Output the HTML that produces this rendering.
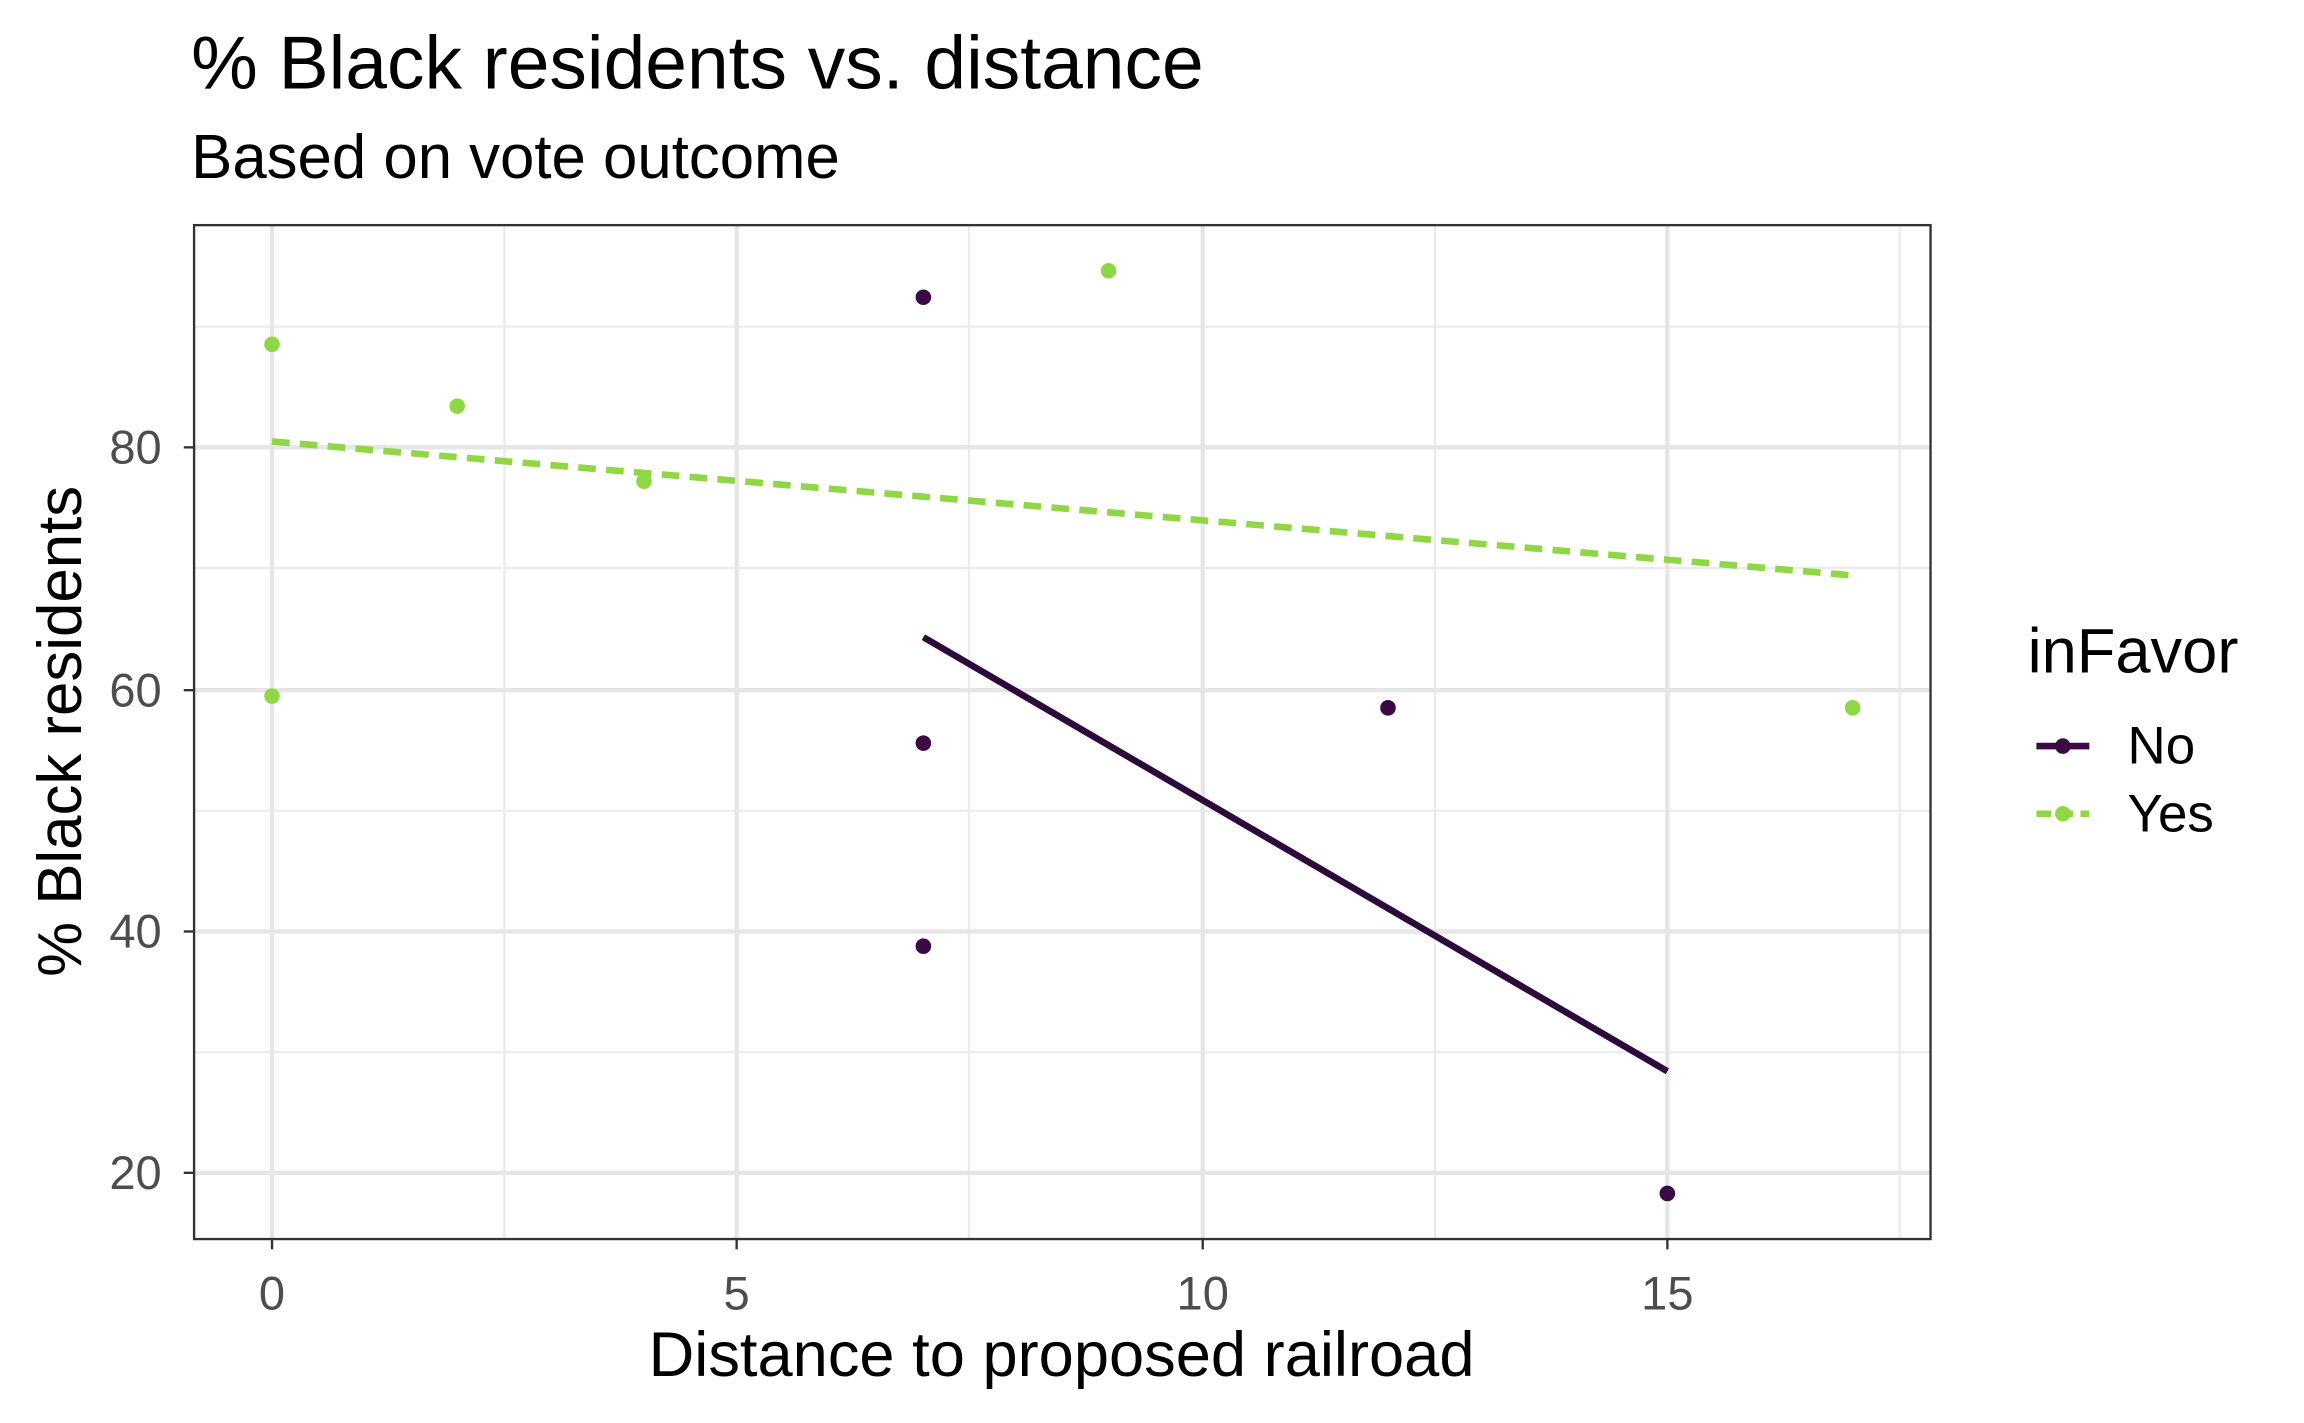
<!DOCTYPE html>
<html><head><style>html,body{margin:0;padding:0;background:#fff}svg{display:block}</style></head>
<body>
<svg width="2304" height="1423" viewBox="0 0 1567 967" preserveAspectRatio="none" xmlns="http://www.w3.org/2000/svg" font-family="Liberation Sans, sans-serif">
<rect width="1567" height="967" fill="#fff"/>
<text x="130" y="60" font-size="51" fill="#000">% Black residents vs. distance</text>
<text x="130" y="121" font-size="42" fill="#000">Based on vote outcome</text>
<g stroke="#ebebeb" stroke-width="1.5">
<line x1="343" y1="153" x2="343" y2="842"/><line x1="659" y1="153" x2="659" y2="842"/>
<line x1="976" y1="153" x2="976" y2="842"/><line x1="1292" y1="153" x2="1292" y2="842"/>
<line x1="132" y1="715" x2="1313" y2="715"/><line x1="132" y1="551" x2="1313" y2="551"/>
<line x1="132" y1="386" x2="1313" y2="386"/><line x1="132" y1="222" x2="1313" y2="222"/>
</g>
<g stroke="#e6e6e6" stroke-width="3">
<line x1="185" y1="153" x2="185" y2="842"/><line x1="501" y1="153" x2="501" y2="842"/>
<line x1="818" y1="153" x2="818" y2="842"/><line x1="1134" y1="153" x2="1134" y2="842"/>
<line x1="132" y1="797" x2="1313" y2="797"/><line x1="132" y1="633" x2="1313" y2="633"/>
<line x1="132" y1="469" x2="1313" y2="469"/><line x1="132" y1="304" x2="1313" y2="304"/>
</g>
<line x1="185" y1="300" x2="1260" y2="391" stroke="#8fd744" stroke-width="4.5" stroke-dasharray="12,7"/>
<line x1="628" y1="433" x2="1134" y2="728" stroke="#2d0a3c" stroke-width="4.5"/>
<g fill="#8fd744">
<circle cx="185" cy="234" r="5.3"/><circle cx="311" cy="276" r="5.3"/><circle cx="438" cy="327" r="5.3"/>
<circle cx="754" cy="184" r="5.3"/><circle cx="185" cy="473" r="5.3"/><circle cx="1260" cy="481" r="5.3"/>
</g>
<g fill="#3b0a45">
<circle cx="628" cy="202" r="5.3"/><circle cx="628" cy="505" r="5.3"/><circle cx="628" cy="643" r="5.3"/>
<circle cx="944" cy="481" r="5.3"/><circle cx="1134" cy="811" r="5.3"/>
</g>
<rect x="132" y="153" width="1181" height="689" fill="none" stroke="#333" stroke-width="1.6"/>
<g stroke="#333" stroke-width="1.6">
<line x1="185" y1="842" x2="185" y2="849"/><line x1="501" y1="842" x2="501" y2="849"/>
<line x1="818" y1="842" x2="818" y2="849"/><line x1="1134" y1="842" x2="1134" y2="849"/>
<line x1="125" y1="797" x2="132" y2="797"/><line x1="125" y1="633" x2="132" y2="633"/>
<line x1="125" y1="469" x2="132" y2="469"/><line x1="125" y1="304" x2="132" y2="304"/>
</g>
<g font-size="32" fill="#4d4d4d" text-anchor="middle">
<text x="185" y="890">0</text><text x="501" y="890">5</text><text x="818" y="890">10</text><text x="1134" y="890">15</text>
</g>
<g font-size="32" fill="#4d4d4d" text-anchor="end">
<text x="110" y="808">20</text><text x="110" y="644">40</text><text x="110" y="480">60</text><text x="110" y="315">80</text>
</g>
<text x="722" y="935" font-size="43" text-anchor="middle" fill="#000">Distance to proposed railroad</text>
<text transform="translate(55,497) rotate(-90)" font-size="42" text-anchor="middle" fill="#000">% Black residents</text>
<text x="1379" y="457" font-size="43" fill="#000">inFavor</text>
<line x1="1385" y1="507" x2="1421" y2="507" stroke="#3b0a45" stroke-width="4.5"/>
<circle cx="1403" cy="507" r="5.3" fill="#3b0a45"/>
<line x1="1385" y1="553" x2="1421" y2="553" stroke="#8fd744" stroke-width="4.5" stroke-dasharray="10,5"/>
<circle cx="1403" cy="553" r="5.3" fill="#8fd744"/>
<text x="1447" y="519" font-size="36" fill="#000">No</text>
<text x="1447" y="565" font-size="36" fill="#000">Yes</text>
</svg>
</body></html>
